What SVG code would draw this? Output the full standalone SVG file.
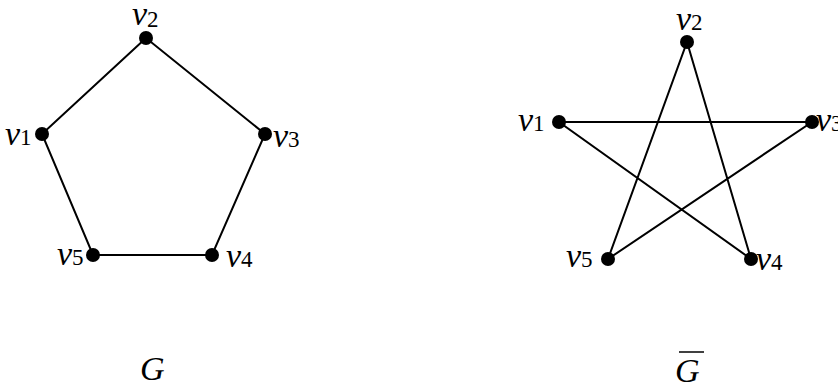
<svg xmlns="http://www.w3.org/2000/svg" width="838" height="385" viewBox="0 0 838 385">
<style>
.e{stroke:#000;stroke-width:2;fill:none}
.d{fill:#000}
.t{font-family:"Liberation Serif","Times New Roman",serif;font-size:34px;fill:#000}
.i{font-style:italic}
.s{font-size:23px;font-style:normal}
</style>
<rect width="838" height="385" fill="#fff"/>
<g id="edges">
<path class="e" d="M146,38 L42,134 L93,255 L212,255 L265,134 Z"/>
<path class="e" d="M559,122 L812,122 L608,259 L687,42 L751,259 Z"/>
</g>
<g id="G-v1"><circle class="d" cx="42" cy="134" r="7"/><text class="t" x="5" y="145"><tspan class="i">v</tspan><tspan class="s">1</tspan></text></g>
<g id="G-v2"><circle class="d" cx="146" cy="38" r="7"/><text class="t" x="132" y="25"><tspan class="i">v</tspan><tspan class="s" dy="2">2</tspan></text></g>
<g id="G-v3"><circle class="d" cx="265" cy="134" r="7"/><text class="t" x="273" y="147"><tspan class="i">v</tspan><tspan class="s">3</tspan></text></g>
<g id="G-v4"><circle class="d" cx="212" cy="255" r="7"/><text class="t" x="226" y="267"><tspan class="i">v</tspan><tspan class="s">4</tspan></text></g>
<g id="G-v5"><circle class="d" cx="93" cy="255" r="7"/><text class="t" x="57" y="265"><tspan class="i">v</tspan><tspan class="s">5</tspan></text></g>
<g id="G-label"><text class="t i" x="140" y="380" font-size="32">G</text></g>
<g id="H-v1"><circle class="d" cx="559" cy="122" r="7"/><text class="t" x="518" y="131"><tspan class="i">v</tspan><tspan class="s">1</tspan></text></g>
<g id="H-v2"><circle class="d" cx="687" cy="42" r="7"/><text class="t" x="676" y="30"><tspan class="i">v</tspan><tspan class="s">2</tspan></text></g>
<g id="H-v3"><circle class="d" cx="812" cy="122" r="7"/><text class="t" x="816" y="131"><tspan class="i">v</tspan><tspan class="s">3</tspan></text></g>
<g id="H-v4"><circle class="d" cx="751" cy="259" r="7"/><text class="t" x="756" y="270"><tspan class="i">v</tspan><tspan class="s">4</tspan></text></g>
<g id="H-v5"><circle class="d" cx="608" cy="259" r="7"/><text class="t" x="566" y="267"><tspan class="i">v</tspan><tspan class="s">5</tspan></text></g>
<g id="H-label"><text class="t i" x="675" y="382" font-size="32">G</text><line x1="679" y1="352" x2="704" y2="352" stroke="#000" stroke-width="1.5"/></g>
</svg>
